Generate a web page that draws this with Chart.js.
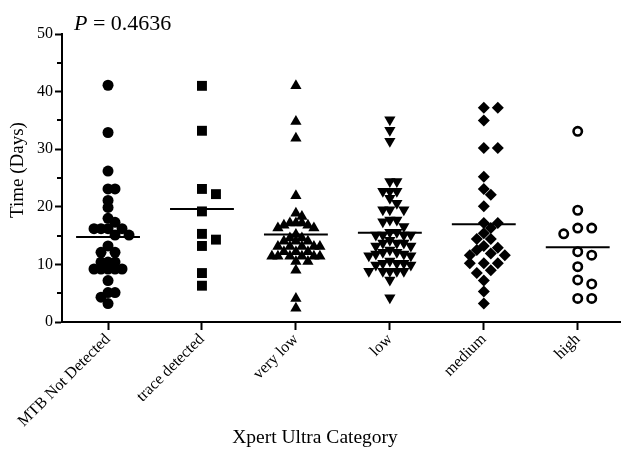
<!DOCTYPE html>
<html>
<head>
<meta charset="utf-8">
<script src="https://cdn.jsdelivr.net/npm/chart.js@4.4.1/dist/chart.umd.min.js"></script>
<style>
  html, body { margin: 0; padding: 0; background: #fff; }
  #wrap { width: 627px; height: 453px; }
</style>
</head>
<body>
<div id="wrap"><canvas id="c" width="627" height="453"></canvas></div>
<script>
// Categories on the x axis
const categories = ['MTB Not Detected', 'trace detected', 'very low', 'low', 'medium', 'high'];

// Time to positivity (days) per Xpert Ultra category
const mtbNotDetected = [41.1, 32.9, 26.2, 23.1, 23.1, 21.1, 19.9, 18.0, 17.3, 16.2, 16.2, 16.2, 16.2,
  15.1, 15.1, 13.2, 12.1, 12.1, 10.4, 10.4, 10.4, 9.2, 9.2, 9.2, 9.2, 9.2, 7.2, 5.1, 5.1, 4.3, 3.2];
const traceDetected = [41.0, 33.2, 23.1, 22.2, 19.2, 15.3, 14.3, 13.2, 8.5, 6.3];
const veryLow = [41.0, 34.8, 31.9, 21.9, 18.9, 18.3, 17.2, 17.2, 17.2, 16.8, 16.8, 16.3, 16.3, 15.2,
  14.6, 14.6, 14.0, 14.0, 14.0, 13.1, 13.1, 13.1, 13.1, 13.1, 12.2, 12.2, 12.2, 11.4, 11.4, 11.4,
  11.4, 11.4, 11.4, 10.5, 10.5, 9.0, 4.1, 2.4];
const low = [35.1, 33.3, 31.4, 24.4, 24.4, 22.7, 22.7, 22.7, 21.5, 20.6, 19.5, 19.5, 19.5, 17.7, 17.7,
  17.4, 16.6, 15.6, 15.6, 15.1, 15.1, 15.1, 15.1, 14.2, 13.7, 13.7, 13.7, 13.2, 13.2, 12.5, 12.1,
  12.1, 11.8, 11.8, 11.5, 11.5, 10.6, 10.2, 10.2, 10.2, 9.9, 9.9, 8.8, 8.8, 8.8, 8.8, 8.8, 7.3, 4.2];
const medium = [37.2, 37.2, 35.0, 30.2, 30.2, 25.2, 23.1, 22.1, 20.1, 17.2, 17.2, 16.3, 15.4, 14.4,
  14.4, 13.2, 12.9, 12.5, 11.9, 11.6, 11.6, 10.2, 10.2, 10.2, 9.0, 8.5, 7.2, 5.3, 3.2];
const high = [33.1, 19.4, 16.3, 16.3, 15.3, 12.2, 11.6, 9.6, 7.3, 6.6, 4.1, 4.1];

// y-axis ticks
const yTicks = [0, 10, 20, 30, 40, 50];
const pValue = '0.4636';
const xTitle = 'Xpert Ultra Category';
const yTitle = 'Time (Days)';

const groups = [
  { values: mtbNotDetected, pointStyle: 'circle', radius: 5.5, rotation: 0, fill: '#000', borderWidth: 0, step: 7, minDist: 6.9 },
  { values: traceDetected, pointStyle: 'rect', radius: 7, rotation: 0, fill: '#000', borderWidth: 0, step: 14, minDist: 10 },
  { values: veryLow, pointStyle: 'triangle', radius: 6.5, rotation: 0, fill: '#000', borderWidth: 0, step: 6, minDist: 6 },
  { values: low, pointStyle: 'triangle', radius: 6.5, rotation: 180, fill: '#000', borderWidth: 0, step: 7, minDist: 6.5 },
  { values: medium, pointStyle: 'rectRot', radius: 6, rotation: 0, fill: '#000', borderWidth: 0, step: 7, minDist: 8 },
  { values: high, pointStyle: 'circle', radius: 4.2, rotation: 0, fill: '#fff', borderWidth: 2.6, step: 14, minDist: 11 }
];

const mean = a => a.reduce((s, v) => s + v, 0) / a.length;
const HALF_LINE = 0.34;

// Mean lines first so they are drawn above the points
const datasets = [];
groups.forEach((g, i) => {
  const m = mean(g.values);
  datasets.push({
    type: 'line', data: [{ x: i - HALF_LINE, y: m }, { x: i + HALF_LINE, y: m }],
    borderColor: '#000', borderWidth: 2, pointRadius: 0, fill: false, order: 0
  });
});
groups.forEach((g, i) => {
  datasets.push({
    type: 'scatter', data: g.values.map(v => ({ x: i, y: v })),
    pointStyle: g.pointStyle, pointRadius: g.radius, pointRotation: g.rotation,
    backgroundColor: g.fill, borderColor: '#000', borderWidth: g.borderWidth, order: 1
  });
});

const FAMILY = "'Liberation Serif', 'Times New Roman', serif";
Chart.defaults.font.family = FAMILY;
Chart.defaults.color = '#000';

// Minor y ticks, axis titles and the P-value annotation
const extras = {
  id: 'extras',
  afterDraw(chart) {
    const { ctx, chartArea, scales } = chart;
    ctx.save();
    ctx.strokeStyle = '#000';
    ctx.lineWidth = 2;
    for (let v = 5; v < 50; v += 10) {
      const y = Math.round(scales.y.getPixelForValue(v));
      ctx.beginPath();
      ctx.moveTo(chartArea.left - 5, y);
      ctx.lineTo(chartArea.left, y);
      ctx.stroke();
    }
    ctx.fillStyle = '#000';
    ctx.textBaseline = 'alphabetic';
    ctx.textAlign = 'left';
    ctx.font = 'italic 22px ' + FAMILY;
    const px = 74, py = 30;
    ctx.fillText('P', px, py);
    const w = ctx.measureText('P').width;
    ctx.font = '22px ' + FAMILY;
    ctx.fillText(' = ' + pValue, px + w, py);

    ctx.textAlign = 'center';
    ctx.textBaseline = 'middle';
    ctx.font = '19.5px ' + FAMILY;
    ctx.fillText(xTitle, 315, 438);

    ctx.translate(18, 170);
    ctx.rotate(-Math.PI / 2);
    ctx.font = '19px ' + FAMILY;
    ctx.fillText(yTitle, 0, 0);
    ctx.restore();
  }
};

const chart = new Chart(document.getElementById('c'), {
  type: 'scatter',
  data: { datasets },
  options: {
    responsive: false,
    animation: false,
    events: [],
    layout: { padding: { top: 34, right: 5, left: 0, bottom: 0 } },
    plugins: { legend: { display: false }, tooltip: { enabled: false } },
    scales: {
      x: {
        type: 'linear', min: -0.49, max: 5.45,
        afterBuildTicks: s => { s.ticks = categories.map((_, i) => ({ value: i })); },
        afterFit: s => { s.height = 131; },
        ticks: {
          autoSkip: false, maxRotation: 45, minRotation: 45, padding: 0,
          font: { size: 16 }, color: '#000',
          callback: v => categories[v]
        },
        grid: { drawOnChartArea: false, drawTicks: true, tickLength: 8, tickWidth: 2, tickColor: '#000' },
        border: { display: true, color: '#000', width: 2 },
        title: { display: false }
      },
      y: {
        min: 0, max: 50,
        afterBuildTicks: s => { s.ticks = yTicks.map(v => ({ value: v })); },
        afterFit: s => { s.width = 62; },
        ticks: { font: { size: 16 }, color: '#000', padding: 2 },
        grid: { drawOnChartArea: false, drawTicks: true, tickLength: 7, tickWidth: 2, tickColor: '#000' },
        border: { display: true, color: '#000', width: 2 },
        title: { display: false }
      }
    }
  },
  plugins: [extras]
});

// Spread points of each column sideways so they do not pile up (simple swarm)
function swarm(values, center, step, minDist) {
  const xs = chart.scales.x, ys = chart.scales.y;
  const cx = xs.getPixelForValue(center);
  const order = values.map((_, i) => i).sort((a, b) => values[b] - values[a]);
  const placed = [];
  const out = new Array(values.length);
  for (const i of order) {
    const py = ys.getPixelForValue(values[i]);
    let off = 0;
    for (let n = 0; n < 30; n++) {
      off = n === 0 ? 0 : (n % 2 ? 1 : -1) * Math.ceil(n / 2) * step;
      if (placed.every(p => Math.hypot(p.x - off, p.y - py) >= minDist)) break;
    }
    placed.push({ x: off, y: py });
    out[i] = { x: xs.getValueForPixel(cx + off), y: values[i] };
  }
  return out;
}

groups.forEach((g, i) => {
  chart.data.datasets[groups.length + i].data = swarm(g.values, i, g.step, g.minDist);
});
chart.update('none');
</script>
</body>
</html>
